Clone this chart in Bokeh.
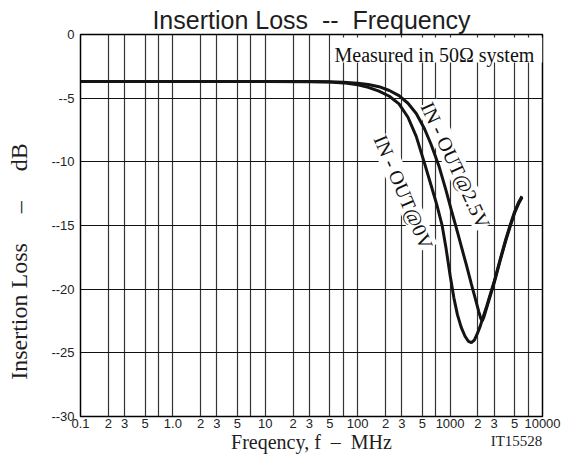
import math
from bokeh.plotting import figure
from bokeh.models import Range1d, FixedTicker, Label
from bokeh.embed import file_html
from bokeh.resources import INLINE

NB = "\u00a0"  # non-breaking space keeps wide gaps in SVG text

# ---------------- texts ----------------
TITLE = "Insertion Loss" + NB * 2 + "--" + NB * 2 + "Frequency"
X_LABEL = "Freqency, f" + NB * 2 + "\u2013" + NB * 2 + "MHz"
Y_LABEL = "Insertion Loss" + NB * 5 + "\u2013" + NB * 5 + "dB"
NOTE = "Measured in 50\u03a9 system"
CODE = "IT15528"
NAME_0V = "IN - OUT@0V"
NAME_25V = "IN - OUT@2.5V"

# ---------------- ticks ----------------
X_TICKS = [0.1, 0.2, 0.3, 0.5, 1, 2, 3, 5, 10, 20, 30, 50, 100, 200, 300, 500,
           1000, 2000, 3000, 5000, 10000]
X_TICK_LABELS = ["0.1", "2", "3", "5", "1.0", "2", "3", "5", "10", "2", "3", "5",
                 "100", "2", "3", "5", "1000", "2", "3", "5", "10000"]
X_GRID = [0.1, 0.2, 0.3, 0.5, 0.7, 1, 2, 3, 5, 7, 10, 20, 30, 50, 70,
          100, 200, 300, 500, 700, 1000, 2000, 3000, 5000, 7000, 10000]
Y_TICKS = [0, -5, -10, -15, -20, -25, -30]
Y_TICK_LABELS = ["0", "--5", "--10", "--15", "--20", "--25", "--30"]

# ---------------- series (MHz, dB) ----------------
FREQ_0V = [0.1, 1, 10, 30, 50, 70, 100, 130, 170, 220, 280, 350, 430, 528, 620,
           720, 820, 900, 1000, 1100, 1200, 1320, 1450, 1580, 1700, 1830, 1970,
           2120, 2250, 2500, 3000, 3500, 4000, 4500, 5000, 5500, 6000]
LOSS_0V = [-3.7, -3.7, -3.7, -3.71, -3.74, -3.8, -3.95, -4.15, -4.45, -4.85, -5.45,
           -6.5, -8.0, -10.1, -11.8, -13.4, -15.0, -16.7, -18.9, -20.7, -22.0,
           -23.0, -23.7, -24.1, -24.2, -24.0, -23.5, -22.9, -22.3, -21.3, -19.4,
           -17.6, -16.1, -14.9, -13.9, -13.2, -12.7]

FREQ_25V = [0.1, 1, 10, 30, 50, 70, 100, 130, 170, 220, 280, 350, 430, 528, 620,
            755, 900, 1050, 1200, 1352, 1500, 1700, 1900, 2050, 2150, 2230, 2320,
            2500, 3000, 3500, 4000, 4500, 5000, 5500, 6000]
LOSS_25V = [-3.7, -3.7, -3.7, -3.7, -3.72, -3.75, -3.82, -3.93, -4.1, -4.4, -4.8,
            -5.4, -6.2, -7.4, -8.6, -10.3, -12.2, -14.0, -15.5, -16.9, -18.1,
            -19.6, -20.9, -21.8, -22.3, -22.5, -22.2, -21.4, -19.5, -17.7, -16.2,
            -15.0, -14.0, -13.3, -12.8]

# ---------------- layout (canvas pixels) ----------------
W, H = 566, 471
FRAME_L, FRAME_R, FRAME_T, FRAME_B = 80, 542, 34, 417
X_MIN, X_MAX, Y_MIN, Y_MAX = 0.1, 10000, -30, 0

SERIF = "Liberation Serif"
SANS = "Liberation Sans"
INK = "#1e1e1e"


def fx(px):
    dec = (FRAME_R - FRAME_L) / (math.log10(X_MAX) - math.log10(X_MIN))
    return 10 ** ((px - FRAME_L) / dec + math.log10(X_MIN))


def fy(py):
    per = (FRAME_B - FRAME_T) / (Y_MAX - Y_MIN)
    return Y_MAX - (py - FRAME_T) / per


p = figure(width=W, height=H, x_axis_type="log",
           x_range=Range1d(X_MIN, X_MAX), y_range=Range1d(Y_MIN, Y_MAX),
           output_backend="svg", toolbar_location=None,
           min_border_left=FRAME_L, min_border_right=W - FRAME_R,
           min_border_top=FRAME_T, min_border_bottom=H - FRAME_B)
p.background_fill_color = "white"
p.border_fill_color = "white"
p.outline_line_color = "black"
p.outline_line_width = 1.5

# title
p.title.text = TITLE
p.title.text_font = SANS
p.title.text_font_size = "25px"
p.title.text_font_style = "normal"
p.title.text_color = INK
p.title.align = "center"
p.title.standoff = 2

# grid
p.xgrid.ticker = FixedTicker(ticks=X_GRID)
p.xgrid.grid_line_color = "#333333"
p.xgrid.grid_line_width = 1.2
p.xgrid.level = "image"
p.ygrid.ticker = FixedTicker(ticks=Y_TICKS)
p.ygrid.grid_line_color = "#111111"
p.ygrid.grid_line_width = 1.2
p.ygrid.level = "image"

# axes
for ax in (p.xaxis[0], p.yaxis[0]):
    ax.axis_line_color = None
    ax.major_tick_line_color = None
    ax.minor_tick_line_color = None
    ax.major_tick_out = 0
    ax.major_tick_in = 0
    ax.major_label_text_font = SANS
    ax.major_label_text_font_size = "13px"
    ax.major_label_text_color = "#222222"
    ax.axis_label_text_font = SERIF
    ax.axis_label_text_font_style = "normal"
    ax.axis_label_text_color = INK
p.xaxis.ticker = FixedTicker(ticks=X_TICKS)
p.xaxis.major_label_overrides = {float(t): l for t, l in zip(X_TICKS, X_TICK_LABELS)}
p.xaxis.major_label_standoff = 2
p.xaxis.axis_label = X_LABEL
p.xaxis.axis_label_text_font_size = "20px"
p.xaxis.axis_label_standoff = 0
p.yaxis.ticker = FixedTicker(ticks=Y_TICKS)
p.yaxis.major_label_overrides = {float(t): l for t, l in zip(Y_TICKS, Y_TICK_LABELS)}
p.yaxis.major_label_standoff = 6
# trailing blanks push the visible text lower along the axis, as in the original
p.yaxis.axis_label = Y_LABEL + NB * 12
p.yaxis.axis_label_text_font_size = "24px"
p.yaxis.axis_label_standoff = 16

# white note box at top right
p.quad(left=[fx(330)], right=[X_MAX], top=[fy(37)], bottom=[fy(62)],
       fill_color="white", line_color=None)

# curves
p.line(FREQ_25V, LOSS_25V, line_color="#141414", line_width=3)
p.line(FREQ_0V, LOSS_0V, line_color="#141414", line_width=3)

# texts inside frame
p.add_layout(Label(x=fx(334), y=fy(55), text=NOTE, text_font=SERIF,
                   text_font_size="20px", text_align="left",
                   text_baseline="alphabetic", text_color="#111111"))
p.add_layout(Label(x=fx(403), y=fy(192), text=NAME_0V, text_font=SERIF,
                   text_font_size="20px", text_align="center",
                   text_baseline="middle", angle=-math.radians(67),
                   text_color="#111111", background_fill_color="white",
                   level="underlay"))
p.add_layout(Label(x=fx(455), y=fy(165), text=NAME_25V, text_font=SERIF,
                   text_font_size="20px", text_align="center",
                   text_baseline="middle", angle=-math.radians(65),
                   text_color="#111111", background_fill_color="white",
                   level="underlay"))

# drawing code, in the panel below the frame
p.add_layout(Label(x=fx(516), y=fy(442), text=CODE, text_font=SERIF,
                   text_font_size="15px", text_align="center",
                   text_baseline="alphabetic", text_color=INK), "below")

open("out.html", "w").write(file_html(p, INLINE))
